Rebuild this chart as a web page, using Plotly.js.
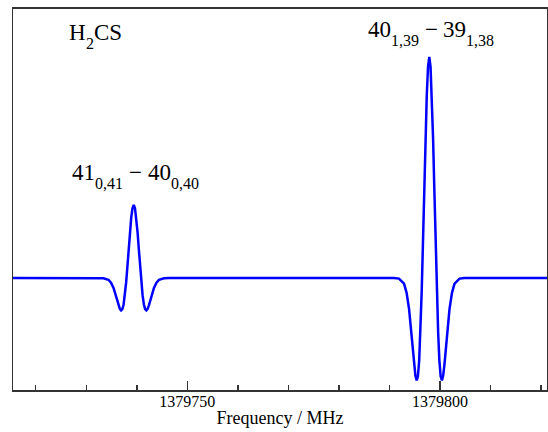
<!DOCTYPE html>
<html>
<head>
<meta charset="utf-8">
<script src="https://cdn.plot.ly/plotly-3.0.1.min.js"></script>
<style>html,body{margin:0;padding:0;background:#fff;}#chart{width:548px;height:432px;}</style>
</head>
<body>
<div id="chart"></div>
<script>
// Frequency (MHz) and intensity (arb. units, baseline 0, strongest peak = 1)
const freqMHz = [
  1379710.0, 1379732.4, 1379733.4, 1379734.4, 1379734.9, 1379735.4, 1379735.9, 1379736.15, 1379736.4,
  1379736.65, 1379736.9, 1379737.15, 1379737.4, 1379737.65, 1379737.9, 1379738.15, 1379738.4,
  1379738.65, 1379738.9, 1379739.15, 1379739.4, 1379739.65, 1379739.9, 1379740.15, 1379740.4,
  1379740.65, 1379740.9, 1379741.15, 1379741.4, 1379741.65, 1379741.9, 1379742.15, 1379742.4,
  1379742.65, 1379742.9, 1379743.4, 1379743.9, 1379744.4, 1379745.4, 1379746.4,
  1379790.9, 1379791.9, 1379792.9, 1379793.4, 1379793.9, 1379794.4, 1379794.65, 1379794.9,
  1379795.15, 1379795.4, 1379795.65, 1379795.9, 1379796.15, 1379796.4, 1379796.65, 1379796.9,
  1379797.15, 1379797.4, 1379797.65, 1379797.9, 1379798.15, 1379798.4, 1379798.65, 1379798.9,
  1379799.15, 1379799.4, 1379799.65, 1379799.9, 1379800.15, 1379800.4, 1379800.65, 1379800.9,
  1379801.15, 1379801.4, 1379801.9, 1379802.4, 1379802.9, 1379803.9, 1379804.9, 1379825.0
];
const intensity = [
  0, 0, -0.001, -0.008, -0.021, -0.045, -0.083, -0.104, -0.124,
  -0.140, -0.147, -0.141, -0.119, -0.078, -0.019, 0.053, 0.132,
  0.209, 0.273, 0.315, 0.330, 0.315, 0.273, 0.209, 0.132,
  0.053, -0.019, -0.078, -0.119, -0.141, -0.147, -0.140, -0.124,
  -0.104, -0.083, -0.045, -0.021, -0.008, -0.001, 0,
  0, -0.003, -0.026, -0.066, -0.141, -0.260, -0.327, -0.392,
  -0.442, -0.464, -0.445, -0.374, -0.245, -0.060, 0.161, 0.400,
  0.632, 0.826, 0.955, 1.000, 0.955, 0.826, 0.632, 0.400,
  0.161, -0.060, -0.245, -0.374, -0.445, -0.464, -0.442, -0.392,
  -0.327, -0.260, -0.141, -0.066, -0.026, -0.003, 0, 0
];
// Transition labels: upper state J, upper Ka,Kc, lower J, lower Ka,Kc
const labelFreqs = [1379739.4, 1379797.9];
const upperJ = ['41', '40'];
const upperK = ['0,41', '1,39'];
const lowerJ = ['40', '39'];
const lowerK = ['0,40', '1,38'];
const molecule = ['H', '2', 'CS'];
const tickVals = [1379750, 1379800];
const tickText = ['1379750', '1379800'];

const serif = 'Liberation Serif';
const BIG = 23, SMALL = 16;
// vertical placement (paper) of the main text and of its subscripts
const labelYMain = [0.571, 0.945];
const labelYSub = [0.542, 0.9175];

function piece(text, size, xref, x, xshift, y) {
  return {
    text: text, x: x, xref: xref, xshift: xshift, y: y, yref: 'paper',
    xanchor: 'left', yanchor: 'middle', showarrow: false,
    font: {family: serif, size: size, color: '#000'}
  };
}
const annotations = [];
labelFreqs.forEach((f, i) => {
  let off = -63.5;
  annotations.push(piece(upperJ[i], BIG, 'x', f, off, labelYMain[i])); off += BIG * 1.0;
  annotations.push(piece(upperK[i], SMALL, 'x', f, off, labelYSub[i])); off += SMALL * 1.75;
  annotations.push(piece('\u2212', BIG, 'x', f, off + BIG * 0.25, labelYMain[i])); off += BIG * 1.064;
  annotations.push(piece(lowerJ[i], BIG, 'x', f, off, labelYMain[i])); off += BIG * 1.0;
  annotations.push(piece(lowerK[i], SMALL, 'x', f, off, labelYSub[i]));
});
annotations.push(piece(molecule[0], BIG, 'paper', 0, 54, 0.9383));
annotations.push(piece(molecule[1], SMALL, 'paper', 0, 54 + BIG * 0.722, 0.9094));
annotations.push(piece(molecule[2], BIG, 'paper', 0, 54 + BIG * 0.722 + SMALL * 0.5, 0.9383));

const trace = {
  x: freqMHz, y: intensity, type: 'scatter', mode: 'lines',
  line: {color: '#0000ff', width: 2.5}, hoverinfo: 'skip'
};

const layout = {
  width: 548, height: 432,
  margin: {l: 13, r: 1, t: 9, b: 42},
  paper_bgcolor: '#fff', plot_bgcolor: '#fff',
  showlegend: false,
  font: {family: serif, color: '#000'},
  xaxis: {
    range: [1379715.5, 1379821.2],
    showgrid: false, zeroline: false,
    showline: true, linecolor: '#333', linewidth: 2, mirror: true,
    ticks: 'inside', ticklen: 9, tickwidth: 1.5, tickcolor: '#333',
    tickvals: tickVals, ticktext: tickText, ticklabelstandoff: -4,
    tickfont: {family: serif, size: 16, color: '#000'},
    minor: {dtick: 10, tick0: 1379750, ticks: 'inside', ticklen: 5, tickwidth: 1.5, tickcolor: '#333', showgrid: false},
    title: {text: 'Frequency / MHz', font: {family: serif, size: 18, color: '#000'}, standoff: 2}
  },
  yaxis: {
    range: [-0.507, 1.217],
    showgrid: false, zeroline: false, showticklabels: false, ticks: '',
    showline: true, linecolor: '#333', linewidth: 1.5, mirror: true
  },
  annotations: annotations
};

Plotly.newPlot('chart', [trace], layout, {displayModeBar: false, staticPlot: true});
</script>
</body>
</html>
